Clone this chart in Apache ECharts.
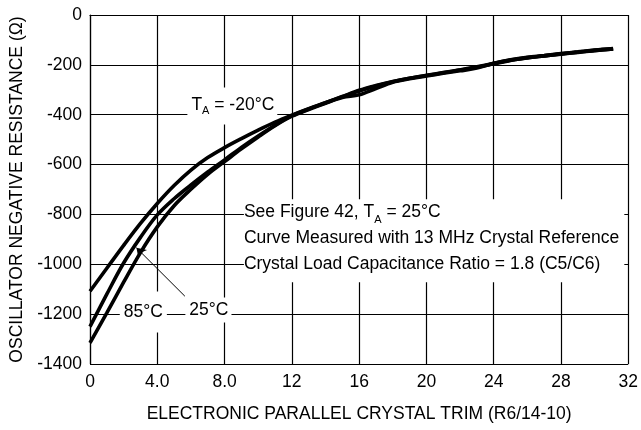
<!DOCTYPE html>
<html>
<head>
<meta charset="utf-8">
<script src="https://cdn.jsdelivr.net/npm/echarts@6/dist/echarts.min.js"></script>
<style>
html,body{margin:0;padding:0;background:#fff;}
#chart{width:641px;height:430px;}
</style>
</head>
<body>
<div id="chart"></div>
<script>
// ---- data ----
const trimX = [0,1,2,3,4,5,6,7,8,9,10,11,12,13,14,15,16,17,18,19,20,21,22,23,24,25,26,27,28,29,30,31.1];
const resMinus20 = [-1108,-1016,-924,-836,-756,-684,-622,-572,-532,-496,-462,-430,-402,-376,-352,-328,-305,-285,-268,-254,-242,-231,-220,-208,-194,-181,-171,-164,-157,-150,-143,-136];
const res25 = [-1250,-1120,-995,-892,-802,-737,-682,-630,-581,-531,-485,-442,-404,-377,-352,-327,-302,-283,-267,-254,-243,-232,-221,-210,-196,-182,-172,-164,-156,-149,-142,-136];
const res85 = [-1315,-1195,-1072,-953,-850,-765,-699,-639,-588,-537,-489,-444,-406,-379,-354,-331,-320,-295,-270,-256,-245,-234,-224,-213,-194,-180,-170,-163,-155,-148,-141,-135];
const xTickLabels = ['0','4.0','8.0','12','16','20','24','28','32'];
const yTickLabels = ['-1400','-1200','-1000','-800','-600','-400','-200','0'];
const seriesNames = ['-20°C','25°C','85°C'];

const FONT = '"Liberation Sans", Arial, Helvetica, sans-serif';
const pair = arr => trimX.map((x, i) => [x, arr[i]]);

const chart = echarts.init(document.getElementById('chart'), null, {renderer: 'canvas'});

const subRich = {
  sub: {fontSize: 11, lineHeight: 6, verticalAlign: 'bottom', fontFamily: FONT, color: '#000'}
};

function curve(name, arr) {
  return {
    name: name, type: 'line', data: pair(arr), smooth: 0.35, showSymbol: false, symbol: 'none',
    lineStyle: {color: '#000', width: 3.6}, z: 5, silent: true
  };
}

const option = {
  animation: false,
  backgroundColor: '#fff',
  textStyle: {fontFamily: FONT, color: '#000'},
  grid: {left: 90, right: 9, top: 15, bottom: 66, containLabel: false},
  xAxis: {
    type: 'value', min: 0, max: 32, interval: 4,
    name: 'ELECTRONIC PARALLEL CRYSTAL TRIM (R6/14-10)',
    nameLocation: 'middle', nameGap: 41,
    nameTextStyle: {fontSize: 17.5, color: '#000', fontFamily: FONT},
    axisLine: {show: true, lineStyle: {color: '#000', width: 1.2}},
    axisTick: {show: false},
    axisLabel: {fontSize: 17.5, color: '#000', fontFamily: FONT, margin: 9,
      formatter: v => xTickLabels[Math.round(v / 4)]},
    splitLine: {show: true, lineStyle: {color: '#000', width: 1.2}}
  },
  yAxis: {
    type: 'value', min: -1400, max: 0, interval: 200,
    name: 'OSCILLATOR NEGATIVE RESISTANCE (Ω)',
    nameLocation: 'middle', nameGap: 64, nameRotate: 90,
    nameTextStyle: {fontSize: 17.5, color: '#000', fontFamily: FONT},
    axisLine: {show: true, lineStyle: {color: '#000', width: 1.2}},
    axisTick: {show: false},
    axisLabel: {fontSize: 17.5, color: '#000', fontFamily: FONT, margin: 8,
      formatter: v => yTickLabels[Math.round((v + 1400) / 200)]},
    splitLine: {show: true, lineStyle: {color: '#000', width: 1.2}}
  },
  series: [
    {
      name: 'annotations', type: 'line', data: [], z: 2, silent: true,
      markPoint: {
        silent: true,
        symbol: 'circle', symbolSize: 1,
        itemStyle: {color: 'rgba(0,0,0,0)'},
        data: [
          {coord: [5.76, -365], label: {show: true, position: 'right', distance: 0,
            formatter: 'T{sub|A} = -20°C', fontSize: 17.5, lineHeight: 22, color: '#000', fontFamily: FONT,
            backgroundColor: '#fff', padding: [7, 3, 8, 4], rich: subRich}},
          {coord: [9.12, -906], label: {show: true, position: 'right', distance: 0, align: 'left',
            formatter: 'See Figure 42, T{sub|A} = 25°C\nCurve Measured with 13 MHz Crystal Reference\nCrystal Load Capacitance Ratio = 1.8 (C5/C6)',
            fontSize: 17.5, lineHeight: 26, color: '#000', fontFamily: FONT,
            backgroundColor: '#fff', padding: [0, 5, 5, 0], rich: subRich}},
          {coord: [1.74, -1191], label: {show: true, position: 'right', distance: 0,
            formatter: '85°C', fontSize: 17.5, lineHeight: 33, color: '#000', fontFamily: FONT,
            backgroundColor: '#fff', padding: [6, 4, 2, 4]}},
          {coord: [5.64, -1183], label: {show: true, position: 'right', distance: 0,
            formatter: '25°C', fontSize: 17.5, lineHeight: 20, color: '#000', fontFamily: FONT,
            backgroundColor: '#fff', padding: [3, 3, 2, 4]}}
        ]
      },
      markLine: {
        silent: true,
        symbol: ['none', 'arrow'], symbolSize: 9,
        lineStyle: {color: '#000', width: 1, type: 'solid'},
        label: {show: false},
        data: [[{coord: [5.64, -1128]}, {coord: [2.76, -934]}]]
      }
    },
    curve(seriesNames[0], resMinus20),
    curve(seriesNames[1], res25),
    curve(seriesNames[2], res85)
  ]
};
chart.setOption(option);
</script>
</body>
</html>
